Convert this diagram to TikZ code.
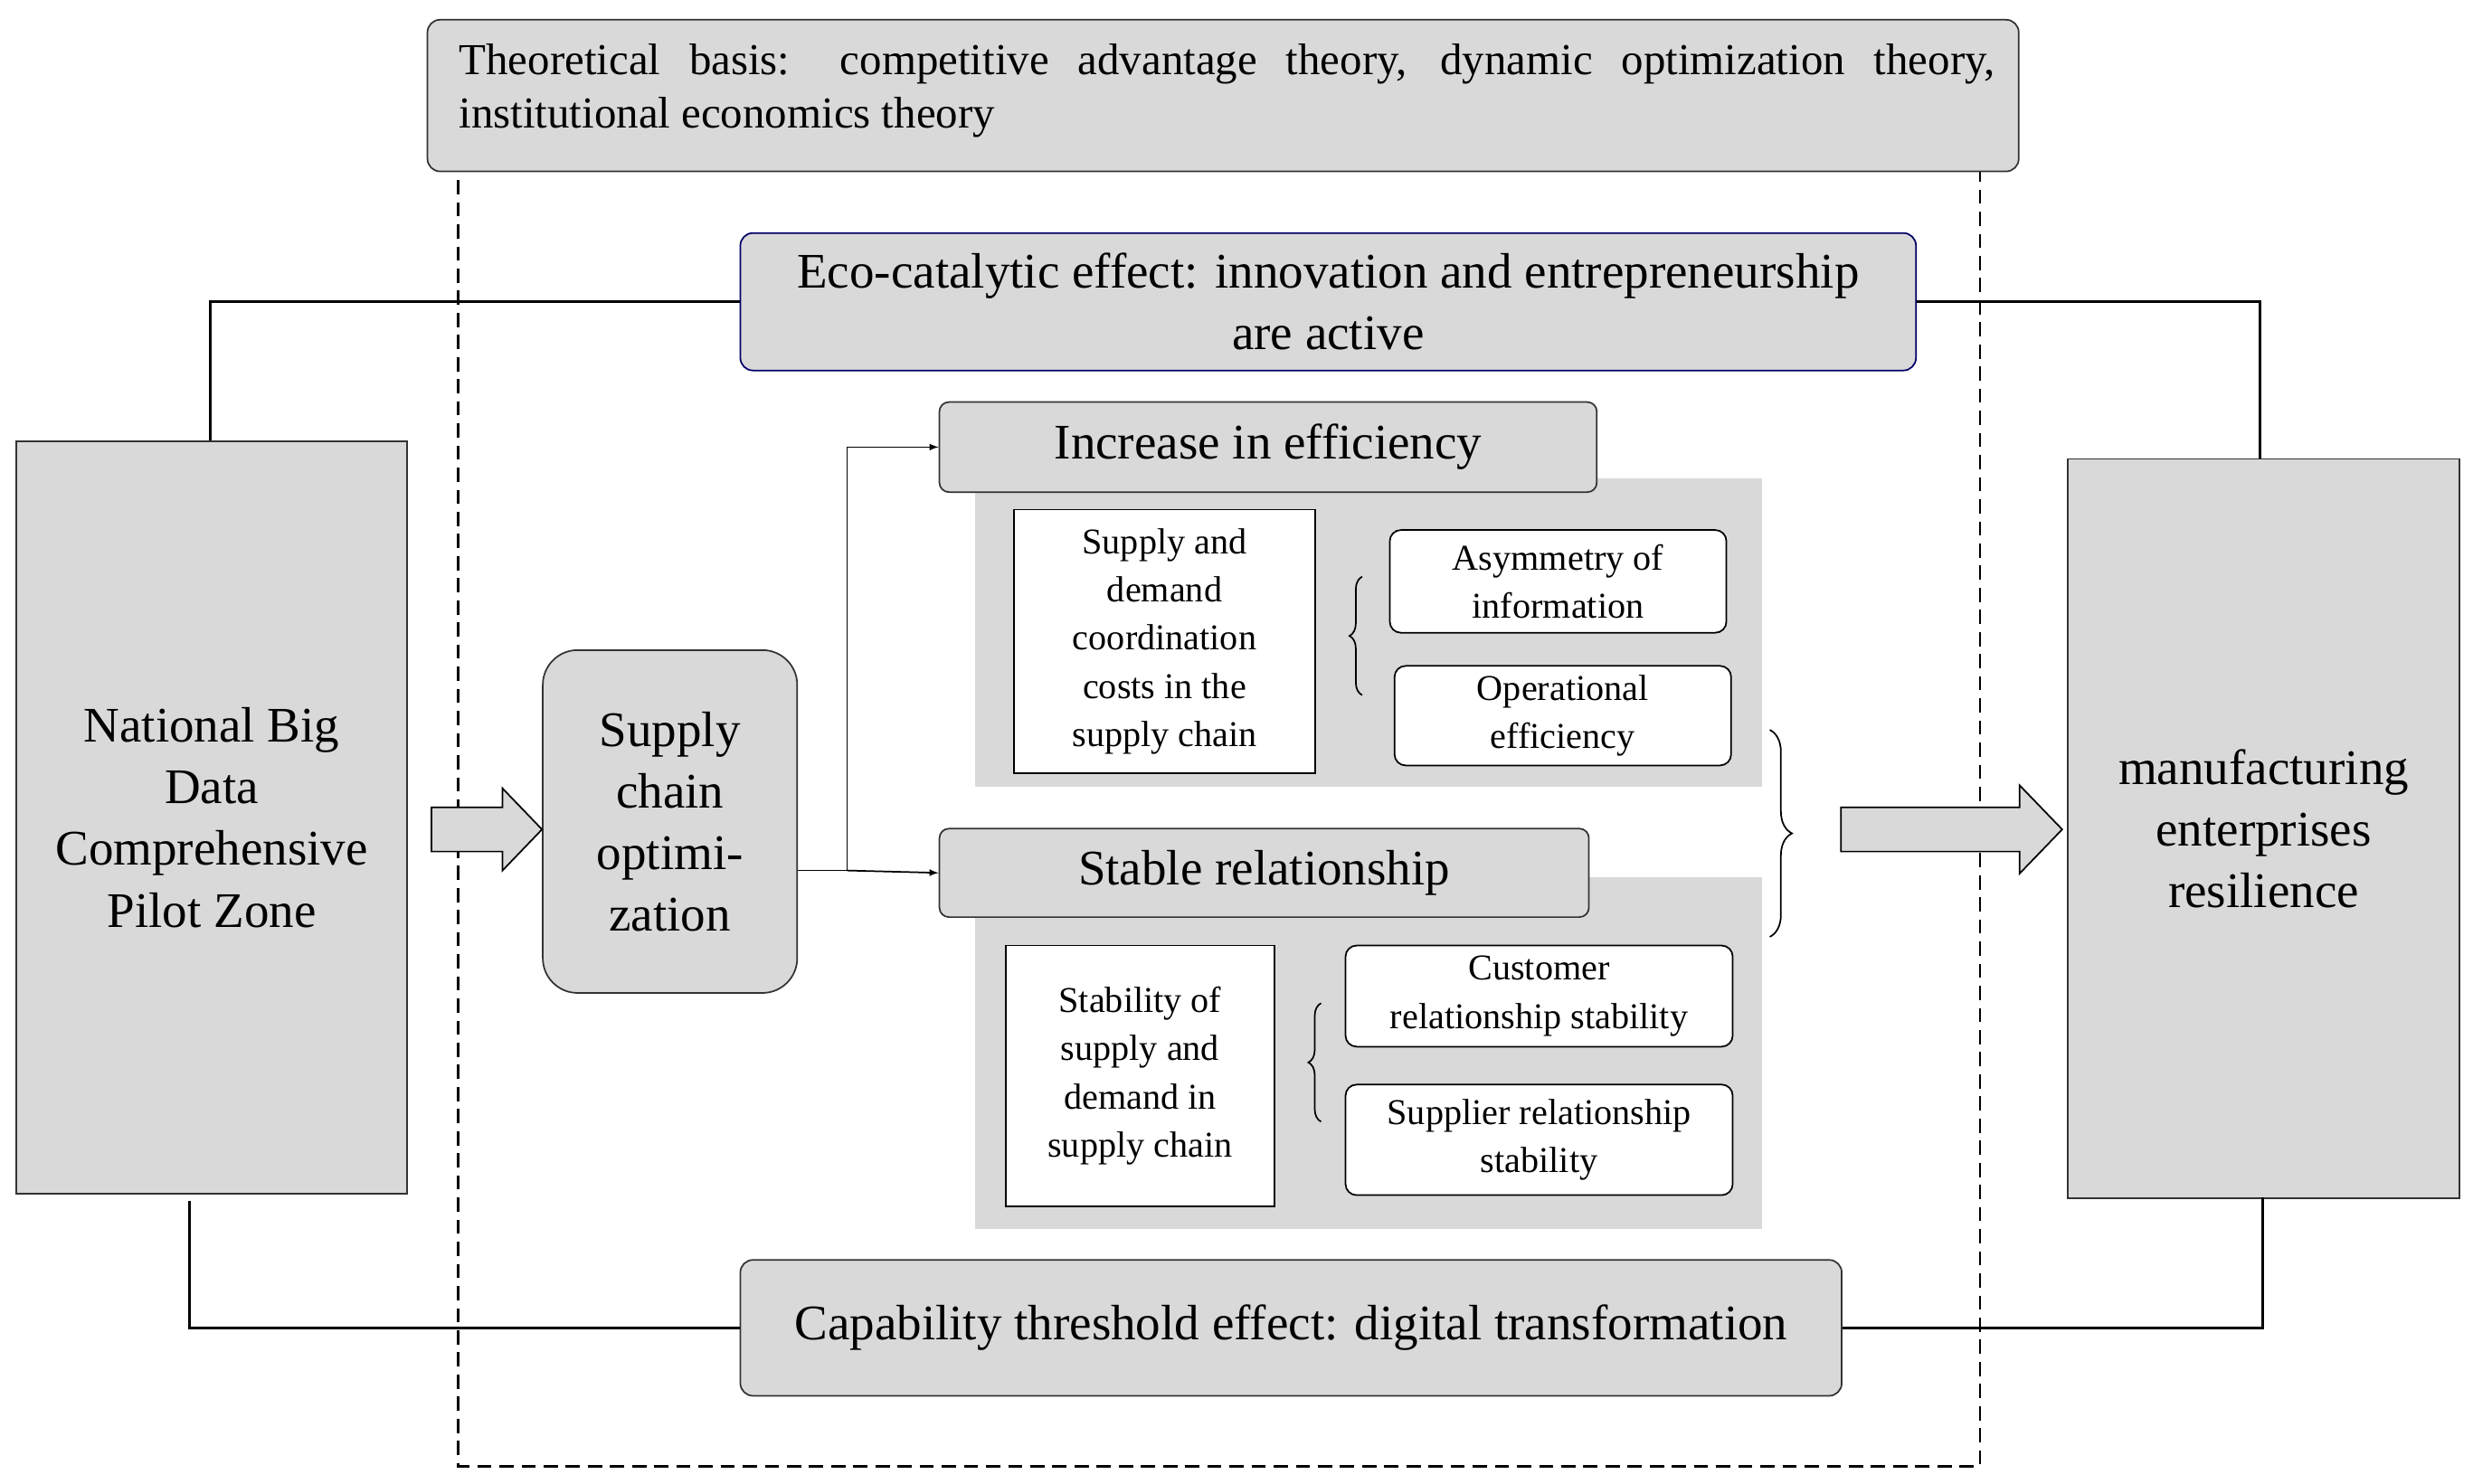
\documentclass[tikz,border=0pt]{standalone}
\usepackage{fontspec}
\setmainfont{Liberation Serif}
\usetikzlibrary{decorations.pathreplacing}
\begin{document}
\begin{tikzpicture}[x=1pt,y=-1pt,
 gbox/.style={draw=black!80,fill=gray!30,rounded corners=8pt,line width=1pt,inner sep=0pt},
 sqbox/.style={draw=black!80,fill=gray!30,line width=1pt,inner sep=0pt},
 wbox/.style={draw=black,fill=white,line width=1pt,inner sep=0pt},
 wrbox/.style={draw=black,fill=white,rounded corners=7pt,line width=1pt,inner sep=0pt},
 big/.style={font=\fontsize{31.5}{39}\selectfont,align=center},
 mid/.style={font=\fontsize{28}{34}\selectfont},
 small/.style={font=\fontsize{23}{30.5}\selectfont,align=center},
 ln/.style={line width=1.5pt},
 ar/.style={line width=1pt,-latex}]
\useasboundingbox (0,0) rectangle (1565,939);
% dashed frame
\draw[line width=1.5pt,dash pattern=on 9pt off 5pt] (290,100) rectangle (1253,928);
% top box
\node[gbox,minimum width=1007,minimum height=96,anchor=north west] (top) at (270,12) {};
\node[mid,text width=972,align=justify,anchor=north west] (toptext) at (287,24) {Theoretical basis: competitive advantage theory, dynamic optimization theory,\linebreak institutional economics theory};
% eco box
\node[gbox,draw=blue!40!black,minimum width=744,minimum height=87,anchor=north west] (eco) at (468,147) {};
\node[big] at (eco.center) {Eco-catalytic effect: innovation and entrepreneurship\\are active};
% left/right boxes
\node[sqbox,minimum width=247,minimum height=476,anchor=north west] (L) at (10,279) {};
\node[big] at (L.center) {National Big\\Data\\Comprehensive\\Pilot Zone};
\node[sqbox,minimum width=248,minimum height=468,anchor=north west] (R) at (1308,290) {};
\node[big] at (R.center) {manufacturing\\enterprises\\resilience};
% capability box
\node[gbox,minimum width=697,minimum height=86,anchor=north west] (cap) at (468,797) {};
\node[big] at (cap.center) {Capability threshold effect: digital transformation};
% connectors
\draw[ln] (L.north -| 133,0) |- (eco.west);
\draw[ln] (eco.east) -| (R.north -| 1430,0);
\draw[ln] (120,760) |- (cap.west);
\draw[ln] (cap.east) -| (1432,758);
% supply chain box
\node[gbox,rounded corners=22pt,minimum width=161,minimum height=217,anchor=north west] (sc) at (343,411) {};
\node[big] at (sc.center) {Supply\\chain\\optimi-\\zation};
\draw[line width=1pt,fill=gray!30] (273,511) -- (318,511) -- (318,499) -- (343,525) -- (318,551) -- (318,539) -- (273,539) -- cycle;
% panels
\fill[gray!30] (617,303) rectangle (1115,498);
\fill[gray!30] (617,555) rectangle (1115,778);
\node[gbox,rounded corners=6pt,minimum width=416,minimum height=57,anchor=north west] (inc) at (594,254) {};
\node[big] at (inc.center) {Increase in efficiency};
\node[gbox,rounded corners=6pt,minimum width=411,minimum height=56,anchor=north west] (st) at (594,524) {};
\node[big] at (st.center) {Stable relationship};
\coordinate (j) at (536,551);
\draw[line width=1pt] (sc.east |- j) -- (j);
\draw[ar] (j) |- (inc.west);
\draw[ar] (j) -- (st.west);
% inner boxes
\node[wbox,minimum width=191,minimum height=167,anchor=north west] (a) at (641,322) {};
\node[small] at (a.center) {Supply and\\demand\\coordination\\costs in the\\supply chain};
\node[wrbox,minimum width=213,minimum height=65,anchor=north west] (a1) at (879,335) {};
\node[small] at (a1.center) {Asymmetry of\\information};
\node[wrbox,minimum width=213,minimum height=63,anchor=north west] (a2) at (882,421) {};
\node[small] at (a2.center) {Operational\\efficiency};
\draw[line width=1pt,decorate,decoration={brace,amplitude=8pt}] (862,440) -- (862,365);
\node[wbox,minimum width=170,minimum height=165,anchor=north west] (b) at (636,598) {};
\node[small] at (b.center) {Stability of\\supply and\\demand in\\supply chain};
\node[wrbox,minimum width=245,minimum height=64,anchor=north west] (b1) at (851,598) {};
\node[small] at (b1.center) {Customer\\relationship stability};
\node[wrbox,minimum width=245,minimum height=70,anchor=north west] (b2) at (851,686) {};
\node[small] at (b2.center) {Supplier relationship\\stability};
\draw[line width=1pt,decorate,decoration={brace,amplitude=8pt}] (836,710) -- (836,635);
% big brace
\draw[line width=1pt,decorate,decoration={brace,amplitude=14pt}] (1120,462) -- (1120,593);
\draw[line width=1pt,fill=gray!30] (1165,511) -- (1278,511) -- (1278,497) -- (1305,525) -- (1278,553) -- (1278,539) -- (1165,539) -- cycle;
\end{tikzpicture}
\end{document}
